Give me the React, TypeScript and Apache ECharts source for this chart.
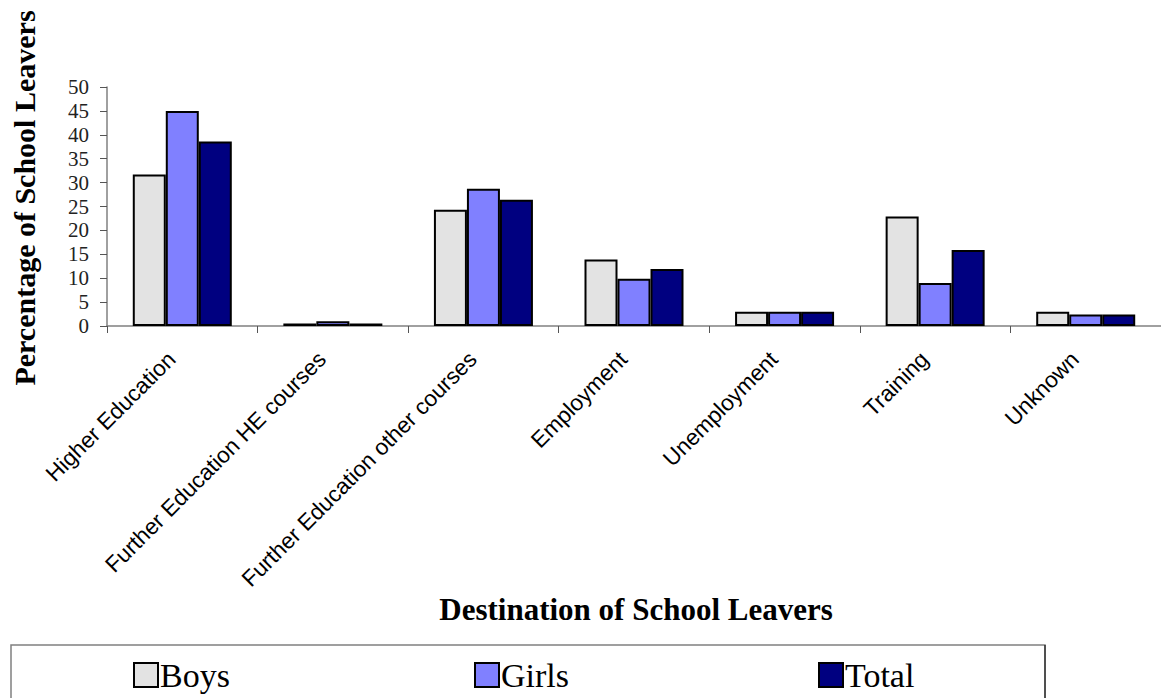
import React, { useEffect, useRef } from "react";
import * as echarts from "echarts";

const categories = [
  "Higher Education",
  "Further Education HE courses",
  "Further Education other courses",
  "Employment",
  "Unemployment",
  "Training",
  "Unknown",
];
const boys = [31.7, 0.5, 24.3, 13.9, 3.0, 22.9, 3.0];
const girls = [45.0, 1.0, 28.7, 9.9, 3.0, 9.0, 2.4];
const total = [38.6, 0.5, 26.4, 11.9, 3.0, 15.9, 2.4];
const yTicks = { min: 0, max: 50, interval: 5 };

const seriesDefs = [
  { name: "Boys", data: boys, color: "#e3e3e3" },
  { name: "Girls", data: girls, color: "#8080ff" },
  { name: "Total", data: total, color: "#000080" },
];

export default function App() {
  const ref = useRef<HTMLDivElement>(null);
  useEffect(() => {
    if (!ref.current) return;
    const chart = echarts.init(ref.current, undefined, { renderer: "svg" });
    const legendLefts = [133, 474, 818];
    chart.setOption({
      animation: false,
      backgroundColor: "#ffffff",
      grid: { left: 107, top: 87, width: 1059, height: 239 },
      xAxis: {
        type: "category",
        data: categories,
        boundaryGap: true,
        axisLine: { show: true, lineStyle: { color: "#808080", width: 1.5 } },
        axisTick: { show: true, length: 7, lineStyle: { color: "#555", width: 1 } },
        axisLabel: {
          interval: 0,
          rotate: 45,
          margin: 19,
          padding: [0, 15, 0, 0],
          fontFamily: "Liberation Sans, Arial, sans-serif",
          fontSize: 22.5,
          color: "#000",
        },
        splitLine: { show: false },
      },
      yAxis: {
        type: "value",
        min: yTicks.min,
        max: yTicks.max,
        interval: yTicks.interval,
        axisLine: { show: true, lineStyle: { color: "#808080", width: 1.5 } },
        axisTick: { show: true, length: 7, lineStyle: { color: "#555", width: 1 } },
        axisLabel: {
          margin: 18,
          fontFamily: "Liberation Serif, Times New Roman, serif",
          fontSize: 21,
          color: "#222",
        },
        splitLine: { show: false },
      },
      legend: seriesDefs.map((s, i) => ({
        show: true,
        data: [s.name],
        left: legendLefts[i],
        top: 658,
        padding: 0,
        itemWidth: 24,
        itemHeight: 24,
        icon: "rect",
        selectedMode: false,
        textStyle: {
          fontFamily: "Liberation Serif, Times New Roman, serif",
          fontSize: 34,
          color: "#000",
          padding: [0, 0, 0, -3],
        },
      })),
      graphic: [
        {
          type: "rect",
          shape: { x: 11, y: 645, width: 1034, height: 70 },
          style: { fill: "none", stroke: "#808080", lineWidth: 1.5 },
          silent: true,
        },
        {
          type: "line",
          shape: { x1: 1045, y1: 645, x2: 1045, y2: 700 },
          style: { stroke: "#000", lineWidth: 1 },
          silent: true,
        },
        {
          type: "text",
          x: 24,
          y: 198,
          rotation: Math.PI / 2,
          style: {
            text: "Percentage of School Leavers",
            fontFamily: "Liberation Serif, Times New Roman, serif",
            fontWeight: "bold",
            fontSize: 30,
            fill: "#000",
            align: "center",
            verticalAlign: "middle",
          },
        },
        {
          type: "text",
          x: 636,
          y: 609,
          style: {
            text: "Destination of School Leavers",
            fontFamily: "Liberation Serif, Times New Roman, serif",
            fontWeight: "bold",
            fontSize: 31,
            fill: "#000",
            align: "center",
            verticalAlign: "middle",
          },
        },
      ],
      series: seriesDefs.map((s) => ({
        name: s.name,
        type: "bar",
        data: s.data,
        barWidth: 33,
        barGap: "0%",
        itemStyle: { color: s.color, borderColor: "#000", borderWidth: 2 },
      })),
    });
    return () => chart.dispose();
  }, []);
  return (
    <div
      ref={ref}
      style={{ position: "absolute", left: 0, top: 0, width: 1161, height: 698 }}
    />
  );
}
